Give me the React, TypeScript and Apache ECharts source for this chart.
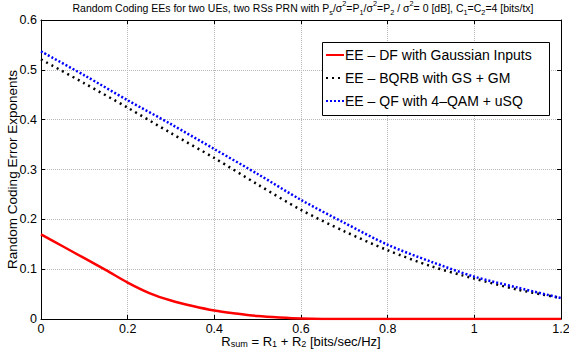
import React, { useEffect, useRef } from "react";
import * as echarts from "echarts";

const xs = [0, 0.1, 0.2, 0.3, 0.4, 0.5, 0.6, 0.7, 0.8, 0.9, 1.0, 1.1, 1.2];
const redXs = [0, 0.05, 0.1, 0.15, 0.2, 0.25, 0.3, 0.35, 0.4, 0.45, 0.5, 0.55, 0.6, 0.7, 0.8, 0.9, 1.0, 1.1, 1.2];
const dfGaussian = [0.17, 0.146, 0.122, 0.098, 0.073, 0.052, 0.037, 0.026, 0.017, 0.011, 0.006, 0.003, 0.001, 0, 0, 0, 0, 0, 0];
const bqrbGsGm = [0.521, 0.473, 0.424, 0.373, 0.323, 0.27, 0.219, 0.176, 0.138, 0.106, 0.081, 0.059, 0.042];
const qf4qamUsq = [0.537, 0.489, 0.439, 0.391, 0.341, 0.291, 0.239, 0.193, 0.149, 0.115, 0.085, 0.063, 0.042];
const seriesNames = [
  "EE \u2013 DF with Gaussian Inputs",
  "EE \u2013 BQRB with GS + GM",
  "EE \u2013 QF with 4\u2013QAM + uSQ",
];

const FONT = "Liberation Sans, Arial, Helvetica, sans-serif";

export default function App() {
  const ref = useRef<HTMLDivElement>(null);
  useEffect(() => {
    if (!ref.current) return;
    const chart = echarts.init(ref.current, undefined, { renderer: "svg" });
    const base = { fontFamily: FONT, color: "#000", fontWeight: "normal" as const };
    const rich = (fs: number, lh: number) => ({
      n: { ...base, fontSize: fs, lineHeight: lh, verticalAlign: "middle" as const },
      sub: { ...base, fontSize: fs * 0.7, lineHeight: 7, verticalAlign: "bottom" as const },
      sup: { ...base, fontSize: fs * 0.7, lineHeight: 7, verticalAlign: "top" as const },
    });
    const gridStyle = { show: true, lineStyle: { color: "#b8b8b8", type: "dotted" as const, width: 1 } };
    const tick = { show: true, inside: true, length: 4, lineStyle: { color: "#000" } };
    const line = { show: true, onZero: false, lineStyle: { color: "#000", width: 1 } };
    chart.setOption({
      animation: false,
      backgroundColor: "#fff",
      textStyle: { fontFamily: FONT },
      title: {
        text:
          "{n|Random Coding EEs for two UEs, two RSs PRN with P}{sub|s}{n|/\u03c3}{sup|2}{n|=P}{sub|1}{n|/\u03c3}{sup|2}{n|=P}{sub|2}{n| / \u03c3}{sup|2}{n|= 0 [dB], C}{sub|1}{n|=C}{sub|2}{n|=4 [bits/tx]}",
        left: 303,
        textAlign: "center",
        top: 0,
        padding: 0,
        textStyle: { fontWeight: "normal", rich: rich(10.5, 16) },
      },
      grid: { left: 41, right: 8, top: 20, bottom: 34, outerBoundsMode: "none", containLabel: false },
      graphic: [
        {
          type: "rect",
          left: 322,
          top: 42,
          z: 10,
          shape: { width: 227, height: 73 },
          style: { fill: "#fff", stroke: "#000", lineWidth: 1 },
        },
      ],
      legend: {
        orient: "vertical",
        left: 325,
        top: 48,
        padding: 0,
        itemGap: 9,
        itemWidth: 18,
        itemHeight: 14,
        z: 20,
        itemStyle: { opacity: 0 },
        textStyle: { fontFamily: FONT, fontSize: 14, color: "#000", padding: [0, 0, 0, -4] },
        data: seriesNames,
      },
      xAxis: [
        {
          type: "value",
          min: 0,
          max: 1.2,
          interval: 0.2,
          position: "bottom",
          name: "{n|R}{sub|sum}{n| = R}{sub|1}{n| + R}{sub|2}{n| [bits/sec/Hz]}",
          nameLocation: "middle",
          nameGap: 15,
          nameMoveOverlap: false,
          nameTextStyle: { rich: rich(13, 14) },
          axisLine: line,
          axisTick: tick,
          axisLabel: { fontFamily: FONT, fontSize: 12.5, color: "#000", margin: 3 },
          splitLine: gridStyle,
        },
        {
          type: "value",
          min: 0,
          max: 1.2,
          interval: 0.2,
          position: "top",
          axisLine: line,
          axisTick: tick,
          axisLabel: { show: false },
          splitLine: { show: false },
        },
      ],
      yAxis: [
        {
          type: "value",
          min: 0,
          max: 0.6,
          interval: 0.1,
          position: "left",
          name: "Random Coding Error Exponents",
          nameLocation: "middle",
          nameGap: 22,
          nameMoveOverlap: false,
          nameTextStyle: { fontFamily: FONT, fontSize: 13.5, color: "#000" },
          axisLine: line,
          axisTick: tick,
          axisLabel: { fontFamily: FONT, fontSize: 12.5, color: "#000", margin: 4 },
          splitLine: gridStyle,
        },
        {
          type: "value",
          min: 0,
          max: 0.6,
          interval: 0.1,
          position: "right",
          axisLine: line,
          axisTick: tick,
          axisLabel: { show: false },
          splitLine: { show: false },
        },
      ],
      series: [
        {
          name: seriesNames[0],
          type: "line",
          smooth: 0.3,
          symbol: "none",
          data: redXs.map((x, i) => [x, dfGaussian[i]]),
          lineStyle: { color: "#ff0000", width: 2.5, type: "solid" },
          itemStyle: { color: "#ff0000" },
          z: 5,
        },
        {
          name: seriesNames[1],
          type: "line",
          smooth: 0.3,
          symbol: "none",
          data: xs.map((x, i) => [x, bqrbGsGm[i]]),
          lineStyle: { color: "#000", width: 2.5, type: [2, 4] },
          itemStyle: { color: "#000" },
          z: 3,
        },
        {
          name: seriesNames[2],
          type: "line",
          smooth: 0.3,
          symbol: "none",
          data: xs.map((x, i) => [x, qf4qamUsq[i]]),
          lineStyle: { color: "#0000ff", width: 2.5, type: [2, 2, 2, 2] },
          itemStyle: { color: "#0000ff" },
          z: 4,
        },
      ],
    });
    return () => chart.dispose();
  }, []);
  return <div ref={ref} style={{ width: 569, height: 353, position: "absolute", left: 0, top: 0 }} />;
}
